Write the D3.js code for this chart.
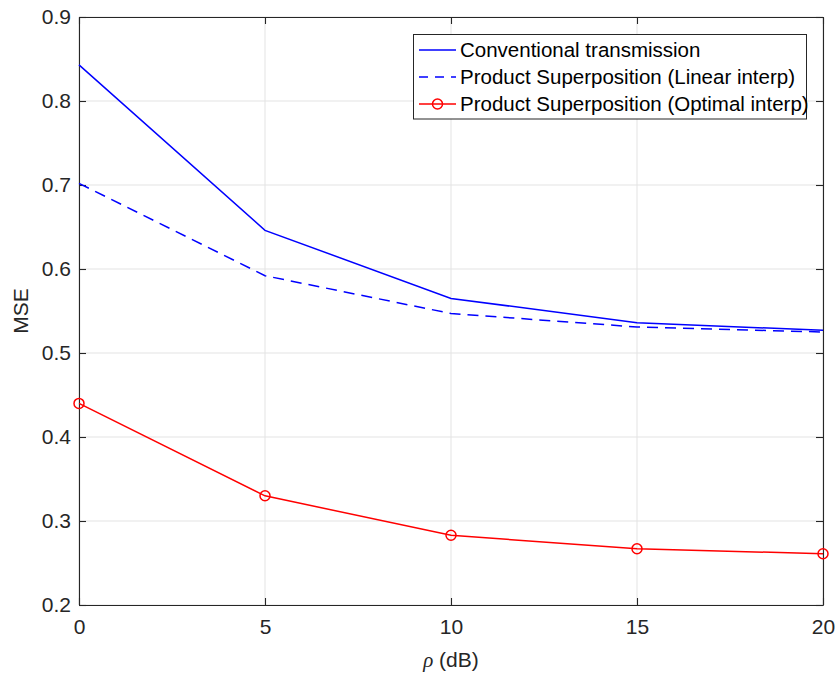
<!DOCTYPE html>
<html>
<head>
<meta charset="utf-8">
<script src="https://cdn.jsdelivr.net/npm/d3@7"></script>
<style>
  html, body { margin: 0; padding: 0; background: #fff; }
  svg { display: block; font-family: "Liberation Sans", Arial, Helvetica, sans-serif; }
</style>
</head>
<body>
<svg id="chart" width="838" height="676"></svg>
<script>
// SNR points (dB)
const rho = [0, 5, 10, 15, 20];
// MSE for each scheme
const conventional = [0.843, 0.646, 0.565, 0.536, 0.527];
const linearInterp = [0.702, 0.592, 0.547, 0.531, 0.525];
const optimalInterp = [0.440, 0.330, 0.283, 0.267, 0.261];

const xTicks = [0, 5, 10, 15, 20];
const yTicks = [0.2, 0.3, 0.4, 0.5, 0.6, 0.7, 0.8, 0.9];

const seriesNames = [
  "Conventional transmission",
  "Product Superposition (Linear interp)",
  "Product Superposition (Optimal interp)"
];

const margin = { left: 79, top: 17, right: 838 - 823, bottom: 676 - 605 };
const W = 838, H = 676;
const svg = d3.select("#chart");

const x = d3.scaleLinear().domain([0, 20]).range([margin.left, W - margin.right]);
const y = d3.scaleLinear().domain([0.2, 0.9]).range([H - margin.bottom, margin.top]);

const tickFont = 21;
const labelFont = 21;
const legendFont = 20.5;
const axisColor = "#262626";

// grid
const grid = svg.append("g");
grid.selectAll("line.gx").data(xTicks).join("line")
  .attr("x1", d => x(d)).attr("x2", d => x(d))
  .attr("y1", y(0.2)).attr("y2", y(0.9))
  .attr("stroke", "#e3e3e3").attr("stroke-width", 1);
grid.selectAll("line.gy").data(yTicks).join("line")
  .attr("x1", x(0)).attr("x2", x(20))
  .attr("y1", d => y(d)).attr("y2", d => y(d))
  .attr("stroke", "#e3e3e3").attr("stroke-width", 1);

// axes with inward ticks
const xAxis = d3.axisBottom(x).tickValues(xTicks).tickFormat(d3.format("d")).tickSizeInner(-7).tickSizeOuter(0).tickPadding(14);
const yAxis = d3.axisLeft(y).tickValues(yTicks).tickFormat(d3.format(".1f")).tickSizeInner(-7).tickSizeOuter(0).tickPadding(8);
const xTop = d3.axisTop(x).tickValues(xTicks).tickFormat("").tickSizeInner(-7).tickSizeOuter(0);
const yRight = d3.axisRight(y).tickValues(yTicks).tickFormat("").tickSizeInner(-7).tickSizeOuter(0);

function styleAxis(g) {
  g.selectAll("path").attr("stroke", axisColor).attr("stroke-width", 1.1);
  g.selectAll("line").attr("stroke", axisColor).attr("stroke-width", 1.1);
  g.selectAll("text").attr("fill", axisColor).style("font-size", tickFont + "px").style("font-family", "'Liberation Sans', Arial, sans-serif");
}
svg.append("g").attr("transform", `translate(0,${y(0.2)})`).call(xAxis).call(styleAxis);
svg.append("g").attr("transform", `translate(${x(0)},0)`).call(yAxis).call(styleAxis);
svg.append("g").attr("transform", `translate(0,${y(0.9)})`).call(xTop).call(styleAxis);
svg.append("g").attr("transform", `translate(${x(20)},0)`).call(yRight).call(styleAxis);

// axis labels
svg.append("text")
  .attr("x", (x(0) + x(20)) / 2).attr("y", 667)
  .attr("text-anchor", "middle").attr("fill", axisColor)
  .style("font-size", labelFont + "px")
  .html('<tspan font-style="italic" font-family="\'Liberation Serif\', serif">ρ</tspan> (dB)');
svg.append("text")
  .attr("transform", `translate(28,${(y(0.2) + y(0.9)) / 2}) rotate(-90)`)
  .attr("text-anchor", "middle").attr("fill", axisColor)
  .style("font-size", labelFont + "px")
  .text("MSE");

// lines
const line = d3.line().x((d, i) => x(rho[i])).y(d => y(d));
svg.append("path").datum(conventional).attr("d", line)
  .attr("fill", "none").attr("stroke", "#0000ff").attr("stroke-width", 1.5);
svg.append("path").datum(linearInterp).attr("d", line)
  .attr("fill", "none").attr("stroke", "#0000ff").attr("stroke-width", 1.5)
  .attr("stroke-dasharray", "11,7");
svg.append("path").datum(optimalInterp).attr("d", line)
  .attr("fill", "none").attr("stroke", "#ff0000").attr("stroke-width", 1.5);
svg.selectAll("circle.opt").data(optimalInterp).join("circle")
  .attr("cx", (d, i) => x(rho[i])).attr("cy", d => y(d)).attr("r", 5)
  .attr("fill", "none").attr("stroke", "#ff0000").attr("stroke-width", 1.5);

// legend
const lg = svg.append("g");
lg.append("rect").attr("x", 413.5).attr("y", 34.5).attr("width", 393).attr("height", 84.5)
  .attr("fill", "#fff").attr("stroke", axisColor).attr("stroke-width", 1);
const rowsY = [50, 77, 104];
const dashes = [null, "9,7", null];
const colors = ["#0000ff", "#0000ff", "#ff0000"];
seriesNames.forEach((name, i) => {
  lg.append("line").attr("x1", 419).attr("x2", 456).attr("y1", rowsY[i]).attr("y2", rowsY[i])
    .attr("stroke", colors[i]).attr("stroke-width", 1.5)
    .attr("stroke-dasharray", dashes[i]);
  if (i === 2) {
    lg.append("circle").attr("cx", 437.5).attr("cy", rowsY[i]).attr("r", 5)
      .attr("fill", "none").attr("stroke", colors[i]).attr("stroke-width", 1.5);
  }
  lg.append("text").attr("x", 460).attr("y", rowsY[i]).attr("dy", "0.35em")
    .attr("fill", "#000").style("font-size", legendFont + "px").text(name);
});
</script>
</body>
</html>
